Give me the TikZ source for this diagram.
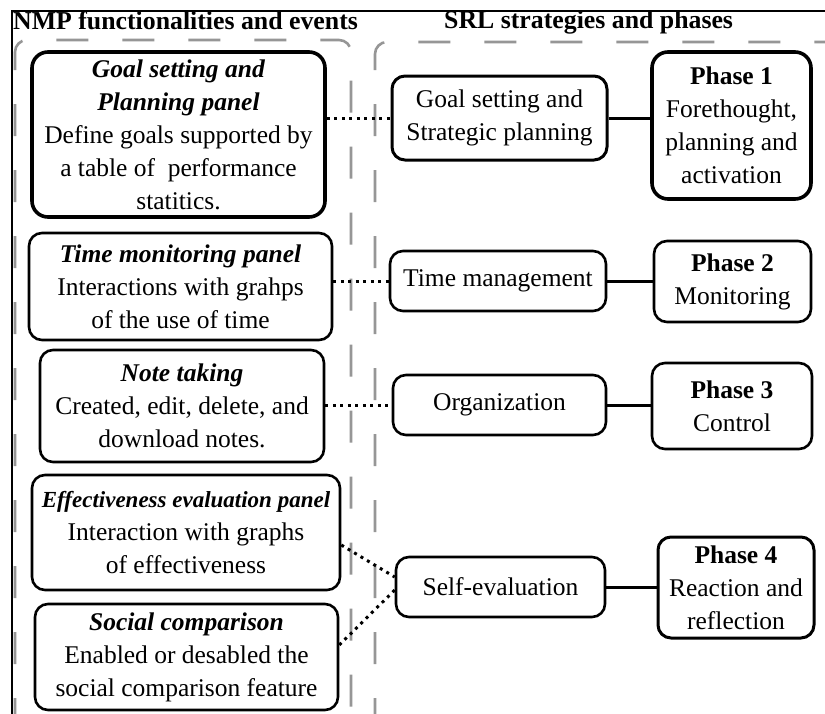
\documentclass[tikz,border=0pt]{standalone}
\usepackage{fontspec}
\setmainfont{Liberation Serif}
\begin{document}
\begin{tikzpicture}[x=1pt,y=-1pt,
  box/.style={draw=black,line width=2.6pt,rounded corners=13pt,inner sep=0pt,align=center,
    font={\fontsize{25.5}{33}\selectfont}},
  thickbox/.style={box,line width=3.6pt,rounded corners=16pt},
  dotline/.style={line width=3pt,dash pattern=on 3pt off 4.5pt},
  solidline/.style={line width=3pt},
  panel/.style={draw={rgb,255:red,150;green,150;blue,150},line width=2.6pt,dash pattern=on 32pt off 34pt,rounded corners=12pt},
  frame/.style={line width=1.4pt},
  title/.style={anchor=base west,inner sep=0pt,font={\fontsize{25.8}{30}\selectfont\bfseries}}
]
\useasboundingbox (0,0) rectangle (825,713);
\clip (0,0) rectangle (825,713);
\fill[white] (0,0) rectangle (825,713);

% frame
\draw[frame] (12,740) -- (12,11) -- (840,11);

% panels
\draw[panel] (15,730) -- (15,40) -- (351,40) -- (351,730);
\draw[panel] (375,730) -- (375,42) -- (845,42) -- (845,730);

% titles
\node[title] (t1) at (13,29) {NMP functionalities and events};
\node[title] (t2) at (444,28) {SRL strategies and phases};

% left boxes
\node[thickbox,minimum width=293pt,minimum height=165pt] (g1) at (178.5,134.5)
  {\textbf{\textit{Goal setting and}}\\\textbf{\textit{Planning panel}}\\Define goals supported by\\a table of\ \ performance\\statitics.};
\node[box,minimum width=303pt,minimum height=107pt] (g2) at (180.5,286.5)
  {\textbf{\textit{Time monitoring panel}}\\Interactions with grahps\\of the use of time};
\node[box,minimum width=284pt,minimum height=112pt] (g3) at (182,406)
  {\textbf{\textit{Note taking}}\\Created, edit, delete, and\\download notes.};
\node[box,minimum width=308pt,minimum height=115pt] (g4) at (186,532.5)
  {{\fontsize{23}{32}\selectfont\textbf{\textit{Effectiveness evaluation panel}}}\\Interaction with graphs\\of effectiveness};
\node[box,minimum width=303pt,minimum height=106pt] (g5) at (186.5,657)
  {\textbf{\textit{Social comparison}}\\Enabled or desabled the\\social comparison feature};

% middle boxes
\node[box,line width=3pt,minimum width=215pt,minimum height=84pt] (m1) at (499.5,118)
  {Goal setting and\\Strategic planning};
\node[box,minimum width=216pt,minimum height=60pt] (m2) at (498,281) {Time management};
\node[box,minimum width=213pt,minimum height=60pt] (m3) at (499.5,405) {Organization};
\node[box,minimum width=209pt,minimum height=60pt] (m4) at (500.5,587) {Self-evaluation};

% phase boxes
\node[thickbox,minimum width=159pt,minimum height=147pt] (p1) at (731.5,125.5)
  {\textbf{Phase 1}\\Forethought,\\planning and\\activation};
\node[box,minimum width=157pt,minimum height=81pt] (p2) at (732.5,281.5)
  {\textbf{Phase 2}\\Monitoring};
\node[box,minimum width=160pt,minimum height=86pt] (p3) at (732,406)
  {\textbf{Phase 3}\\Control};
\node[box,line width=3pt,minimum width=156pt,minimum height=101pt] (p4) at (736,587.5)
  {\textbf{Phase 4}\\Reaction and\\reflection};

% dotted connectors
\draw[dotline] (m1.west -| g1.east) -- (m1.west);
\draw[dotline] (m2.west -| g2.east) -- (m2.west);
\draw[dotline] (m3.west -| g3.east) -- (m3.west);
\coordinate (g4o) at ([yshift=-12.5pt]g4.east);
\coordinate (g5o) at ([yshift=12pt]g5.east);
\coordinate (m4a) at ([yshift=10pt]m4.west);
\coordinate (m4b) at ([yshift=-3pt]m4.west);
\draw[dotline] (g4o) -- (m4a);
\draw[dotline] (g5o) -- (m4b);

% solid connectors
\draw[solidline] (m1.east) -- (m1.east -| p1.west);
\draw[solidline] (m2.east) -- (m2.east -| p2.west);
\draw[solidline] (m3.east) -- (m3.east -| p3.west);
\draw[solidline] (m4.east) -- (m4.east -| p4.west);
\end{tikzpicture}
\end{document}
